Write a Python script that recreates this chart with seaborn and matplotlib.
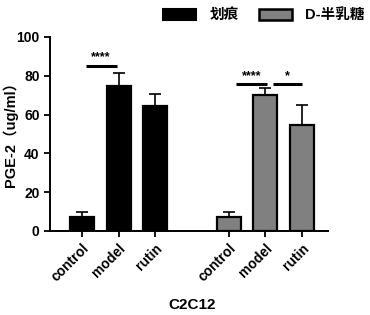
import numpy as np
import pandas as pd
import matplotlib
matplotlib.use("Agg")
import matplotlib.pyplot as plt
import seaborn as sns
from matplotlib.patches import Patch

sns.set_style("ticks")
plt.rcParams['font.family'] = ['Liberation Sans', 'Noto Sans CJK SC', 'DejaVu Sans']
plt.rcParams['font.weight'] = 'bold'
plt.rcParams['text.color'] = 'black'
plt.rcParams['axes.labelcolor'] = 'black'
plt.rcParams['xtick.color'] = 'black'
plt.rcParams['ytick.color'] = 'black'
plt.rcParams['axes.edgecolor'] = 'black'

treatments = ["control", "model", "rutin", "control", "model", "rutin"]
groups = ["划痕", "划痕", "划痕", "D-半乳糖", "D-半乳糖", "D-半乳糖"]
positions = [0, 1, 2, 4, 5, 6]
means = [7.4, 74.9, 64.4, 7.4, 70.2, 54.7]
errs = [2.5, 6.6, 6.1, 2.5, 3.4, 10.2]
sig_x1 = [0.1, 4.2, 5.22]
sig_x2 = [0.95, 5.05, 6.0]
sig_y = [85.2, 75.7, 75.7]
sig_text = ["****", "****", "*"]

df = pd.DataFrame({"pos": positions, "mean": means, "group": groups, "treat": treatments})
palette = {"划痕": "#000000", "D-半乳糖": "#808080"}

fig = plt.figure(figsize=(3.7, 3.15), dpi=100)
ax = fig.add_axes([50/370, 84/315, 278/370, 194/315])

sns.barplot(data=df, x="pos", y="mean", hue="group", palette=palette, native_scale=True,
            dodge=False, width=0.65, edgecolor="black", linewidth=1.6, ax=ax, legend=False,
            errorbar=None, saturation=1)
ax.errorbar(positions, means, yerr=[np.zeros(len(errs)), errs], fmt="none", ecolor="black",
            elinewidth=1.2, capsize=4, capthick=1.2, zorder=1)

for x1, x2, y, s in zip(sig_x1, sig_x2, sig_y, sig_text):
    ax.plot([x1, x2], [y, y], color="black", lw=2.2, solid_capstyle="butt")
    ax.text((x1 + x2) / 2, y + 1.2, s, ha="center", va="bottom", fontsize=9, fontweight="bold")

ax.set_xlim(-0.87, 6.71)
ax.set_ylim(0, 100)
ax.set_yticks([0, 20, 40, 60, 80, 100])
ax.set_xticks(positions)
ax.set_xticklabels(treatments, rotation=45, ha="right", rotation_mode="anchor", fontsize=10, fontweight="bold")
ax.tick_params(axis="y", labelsize=10, width=1.3, length=4)
ax.tick_params(axis="x", width=1.3, length=4)
for t in ax.get_yticklabels():
    t.set_fontweight("bold")
sns.despine(ax=ax)
for sp in ["left", "bottom"]:
    ax.spines[sp].set_linewidth(1.4)
ax.set_xlabel("C2C12", fontsize=11, fontweight="bold")
ax.xaxis.set_label_coords((192 - 50) / 278, -(305 - 231) / 194)
ax.xaxis.label.set_va("center")
ax.set_ylabel("PGE-2（ug/ml）", fontsize=10.5, fontweight="bold")
ax.yaxis.set_label_coords(-(50 - 10) / 278, (231 - 131) / 194)
ax.yaxis.label.set_va("center")

handles = [Patch(facecolor="black", edgecolor="black", linewidth=1.5),
           Patch(facecolor="#808080", edgecolor="black", linewidth=1.8)]
fig.legend(handles, ["划痕", "D-半乳糖"], loc="upper right", bbox_to_anchor=(1.02, 1.015), ncol=2,
           frameon=False, fontsize=10.5, handlelength=2.25, handleheight=0.75, columnspacing=1.4,
           handletextpad=0.9)

fig.savefig("out.png", dpi=100)
